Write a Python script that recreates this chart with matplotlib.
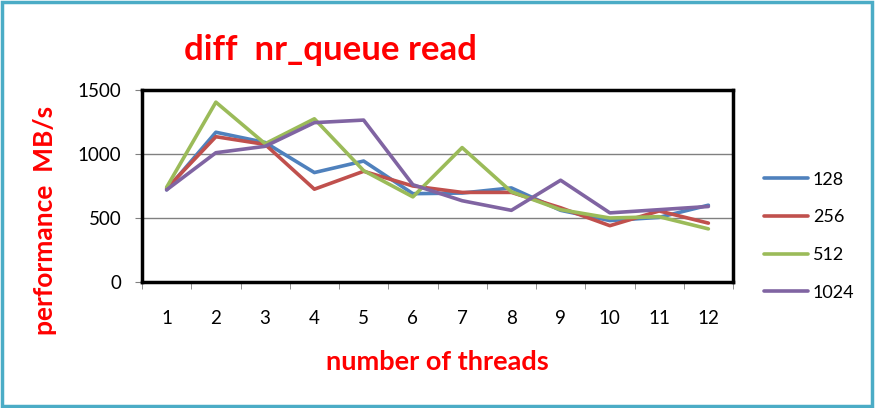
import matplotlib.pyplot as plt
from matplotlib.patches import Rectangle

threads = list(range(1, 13))
s128 = [720, 1170, 1090, 855, 945, 690, 695, 735, 560, 480, 505, 600]
s256 = [730, 1135, 1075, 725, 865, 750, 700, 700, 580, 440, 555, 460]
s512 = [740, 1405, 1080, 1275, 870, 665, 1050, 705, 565, 500, 510, 415]
s1024 = [720, 1010, 1060, 1245, 1265, 760, 635, 560, 795, 540, 565, 590]
labels = ['128', '256', '512', '1024']
colors = ['#4F81BD', '#C0504D', '#9BBB59', '#8064A2']

plt.rcParams['font.family'] = ['Lato', 'DejaVu Sans']

fig = plt.figure(figsize=(8.76, 4.08), dpi=100)
ax = fig.add_axes([142 / 876, 1 - 282 / 408, 591 / 876, 192 / 408])

for vals, lab, c in zip([s128, s256, s512, s1024], labels, colors):
    ax.plot(threads, vals, color=c, linewidth=2.6, label=lab, solid_capstyle='round')

ax.set_xlim(0.5, 12.5)
ax.set_ylim(0, 1500)
ax.set_yticks([0, 500, 1000, 1500])
ax.set_xticks(threads)
ax.set_xticks([i + 0.5 for i in range(0, 13)], minor=True)
ax.tick_params(axis='x', which='major', length=0, pad=20, labelsize=13.5)
ax.tick_params(axis='x', which='minor', length=5, color='#808080', direction='out')
ax.tick_params(axis='y', length=5, color='#808080', labelsize=13.5, pad=10)
ax.grid(axis='y', color='#808080', linewidth=1)
for sp in ax.spines.values():
    sp.set_linewidth(2.5)
    sp.set_color('black')

fig.text(330 / 876, 1 - 50 / 408, 'diff  nr_queue read', color='red', fontsize=25,
         fontweight='bold', ha='center', va='center')
fig.text(45 / 876, 1 - 220 / 408, 'performance  MB/s', color='red', fontsize=19,
         fontweight='bold', ha='center', va='center', rotation=90)
fig.text(437 / 876, 1 - 362 / 408, 'number of threads', color='red', fontsize=19.5,
         fontweight='bold', ha='center', va='center')

fig.legend(loc='center left', bbox_to_anchor=(748 / 876, 1 - 236 / 408), frameon=False,
           fontsize=13, handlelength=2.4, handletextpad=0.3, labelspacing=1.2)

fig.patches.append(Rectangle((0.002, 0.004), 0.994, 0.99, transform=fig.transFigure,
                             fill=False, edgecolor='#4BACC6', linewidth=2.5))

fig.savefig('out.png', dpi=100)
